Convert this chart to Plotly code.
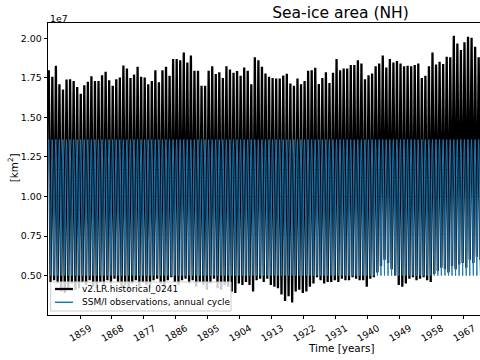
import plotly.graph_objects as go

# ---------------- data (sea-ice area in units of 1e7 km^2) ----------------
YEARS = list(range(1850, 1972))

# annual maxima (March) of the model run
MODEL_MAX = [
    1.799, 1.757, 1.826, 1.709, 1.677, 1.740, 1.742, 1.731, 1.693, 1.649,
    1.704, 1.725, 1.761, 1.731, 1.730, 1.767, 1.788, 1.735, 1.700, 1.742,
    1.752, 1.829, 1.810, 1.750, 1.772, 1.820, 1.757, 1.752, 1.709, 1.730,
    1.799, 1.722, 1.799, 1.820, 1.763, 1.869, 1.870, 1.862, 1.911, 1.848,
    1.892, 1.795, 1.795, 1.700, 1.700, 1.795, 1.824, 1.774, 1.786, 1.750,
    1.824, 1.803, 1.782, 1.793, 1.763,
    1.816, 1.795, 1.709, 1.880, 1.862, 1.820, 1.778, 1.757, 1.750, 1.746,
    1.746, 1.765, 1.776, 1.714, 1.700, 1.746, 1.709, 1.730, 1.795, 1.799,
    1.814, 1.711, 1.750, 1.786, 1.718, 1.782, 1.869, 1.799, 1.810, 1.810,
    1.831, 1.831, 1.862, 1.841, 1.742, 1.767, 1.778, 1.824, 1.841, 1.892,
    1.816, 1.869, 1.848, 1.856, 1.841, 1.824, 1.826, 1.824, 1.831, 1.841,
    1.750, 1.763, 1.824, 1.911, 1.835, 1.852, 1.837, 1.884, 1.880, 2.016,
    1.968, 1.926, 1.975, 2.010, 2.004, 1.947, 1.880,
]

# annual minima (September) of the model run
MODEL_MIN = [
    0.46, 0.47, 0.45, 0.40, 0.39, 0.42, 0.45, 0.41, 0.42, 0.46,
    0.44, 0.47, 0.43, 0.42, 0.46, 0.44, 0.47, 0.45, 0.48, 0.46,
    0.42, 0.44, 0.41, 0.45, 0.47, 0.43, 0.46, 0.44, 0.42, 0.47,
    0.48, 0.45, 0.43, 0.47, 0.49, 0.46, 0.44, 0.47, 0.48, 0.45,
    0.47, 0.43, 0.46, 0.44, 0.41, 0.45, 0.48, 0.42, 0.41, 0.44,
    0.43, 0.40, 0.39, 0.45, 0.44, 0.46, 0.44, 0.40, 0.47, 0.48,
    0.46, 0.48, 0.44, 0.43, 0.42, 0.38, 0.34, 0.37, 0.33, 0.40,
    0.41, 0.39, 0.40, 0.43, 0.45, 0.49, 0.47, 0.45, 0.46, 0.46,
    0.47, 0.46, 0.48, 0.47, 0.47, 0.49, 0.48, 0.47, 0.47, 0.43,
    0.48, 0.49, 0.52, 0.56, 0.60, 0.58, 0.54, 0.50, 0.44, 0.43,
    0.45, 0.48, 0.49, 0.47, 0.48, 0.49, 0.47, 0.46, 0.51, 0.53,
    0.55, 0.54, 0.52, 0.56, 0.54, 0.57, 0.58, 0.55, 0.60, 0.58,
    0.62, 0.60,
]
MAX_MONTH = 3   # March
MIN_MONTH = 9   # September

# SSM/I observed climatological annual cycle, Jan..Dec
OBS_CYCLE = [1.26, 1.34, 1.36, 1.30, 1.17, 1.00, 0.76, 0.57, 0.50, 0.66, 0.92, 1.12]

MODEL_NAME = "v2.LR.historical_0241"
OBS_NAME = "SSM/I observations, annual cycle"
TITLE = "Sea-ice area (NH)"
X_LABEL = "Time [years]"
Y_LABEL = "[km<sup>2</sup>]"
OFFSET_LABEL = "1e7"
X_TICKS = list(range(1859, 1972, 9))
Y_TICKS = [0.50, 0.75, 1.00, 1.25, 1.50, 1.75, 2.00]

# ---------------- build series ----------------
model_t, model_v = [], []
for yr, vmax, vmin in zip(YEARS, MODEL_MAX, MODEL_MIN):
    model_t += [yr + (MAX_MONTH - 0.5) / 12, yr + (MIN_MONTH - 0.5) / 12]
    model_v += [vmax, vmin]

obs_t, obs_v = [], []
for yr in YEARS:
    for m, v in enumerate(OBS_CYCLE):
        obs_t.append(yr + (m + 0.5) / 12)
        obs_v.append(v)

# ---------------- layout geometry ----------------
W, H = 480, 360
L, R, T, B = 48, 0, 23, 45
PW, PH = W - L - R, H - T - B


def px(x):
    return (x - L) / PW


def py(y):
    return (H - B - y) / PH


FONT = "DejaVu Sans"
BLUE = "#1f77b4"

fig = go.Figure()
fig.add_trace(go.Scatter(x=model_t, y=model_v, mode="lines", name=MODEL_NAME,
                         line=dict(color="black", width=2.3, simplify=False),
                         showlegend=False))
fig.add_trace(go.Scatter(x=obs_t, y=obs_v, mode="lines", name=OBS_NAME,
                         line=dict(color=BLUE, width=1.0, simplify=False),
                         showlegend=False))

fig.update_layout(
    width=W, height=H,
    margin=dict(l=L, r=R, t=T, b=B, pad=0),
    paper_bgcolor="white", plot_bgcolor="white",
    font=dict(family=FONT, size=9.4, color="black"),
    title=dict(text=TITLE, x=340.5 / W, xanchor="center", y=1 - 13 / H,
               yanchor="middle", font=dict(size=15.5, family=FONT, color="black")),
    showlegend=False,
)
fig.update_xaxes(range=[1849.99, 1971.58], tickmode="array", tickvals=X_TICKS,
                 ticktext=[str(t) for t in X_TICKS], tickangle=-30,
                 ticks="outside", ticklen=3.5, tickwidth=0.8, tickcolor="black",
                 showline=True, linecolor="black", linewidth=0.8, mirror=True,
                 showgrid=False, zeroline=False, ticklabelshift=10,
                 tickfont=dict(size=9.4, family=FONT, color="black"))
fig.update_yaxes(range=[0.251, 2.097], tickmode="array", tickvals=Y_TICKS,
                 ticktext=[f"{t:.2f}" for t in Y_TICKS],
                 ticks="outside", ticklen=3.5, tickwidth=0.8, tickcolor="black",
                 showline=True, linecolor="black", linewidth=0.8, mirror=False,
                 showgrid=False, zeroline=False,
                 tickfont=dict(size=9.4, family=FONT, color="black"))

ann = [
    dict(text=OFFSET_LABEL, x=px(47.7), y=py(18.2), xanchor="left", yanchor="middle",
         font=dict(size=9.4)),
    dict(text=X_LABEL, x=px(340.5), y=py(348.3), xanchor="center", yanchor="middle",
         font=dict(size=10.4)),
    dict(text=Y_LABEL, x=px(12.3), y=py(168), xanchor="center", yanchor="middle",
         textangle=-90, font=dict(size=10.4)),
    dict(text=MODEL_NAME, x=px(80), y=py(289), xanchor="left", yanchor="middle",
         font=dict(size=9)),
    dict(text=OBS_NAME, x=px(80), y=py(302.3), xanchor="left", yanchor="middle",
         font=dict(size=9)),
]
for a in ann:
    a.update(xref="paper", yref="paper", showarrow=False)
fig.update_layout(annotations=ann)

shapes = [
    dict(type="rect", x0=px(50.7), x1=px(231), y0=py(311), y1=py(282),
         fillcolor="rgba(255,255,255,0.8)", line=dict(color="#cccccc", width=1)),
    dict(type="line", x0=px(55), x1=px(73), y0=py(289), y1=py(289),
         line=dict(color="black", width=2.3)),
    dict(type="line", x0=px(55), x1=px(73), y0=py(302.3), y1=py(302.3),
         line=dict(color=BLUE, width=1.5)),
]
for s in shapes:
    s.update(xref="paper", yref="paper", layer="above")
fig.update_layout(shapes=shapes)

fig.write_html("out.html", config={"displayModeBar": False},
               post_script="document.body.style.margin='0';")
